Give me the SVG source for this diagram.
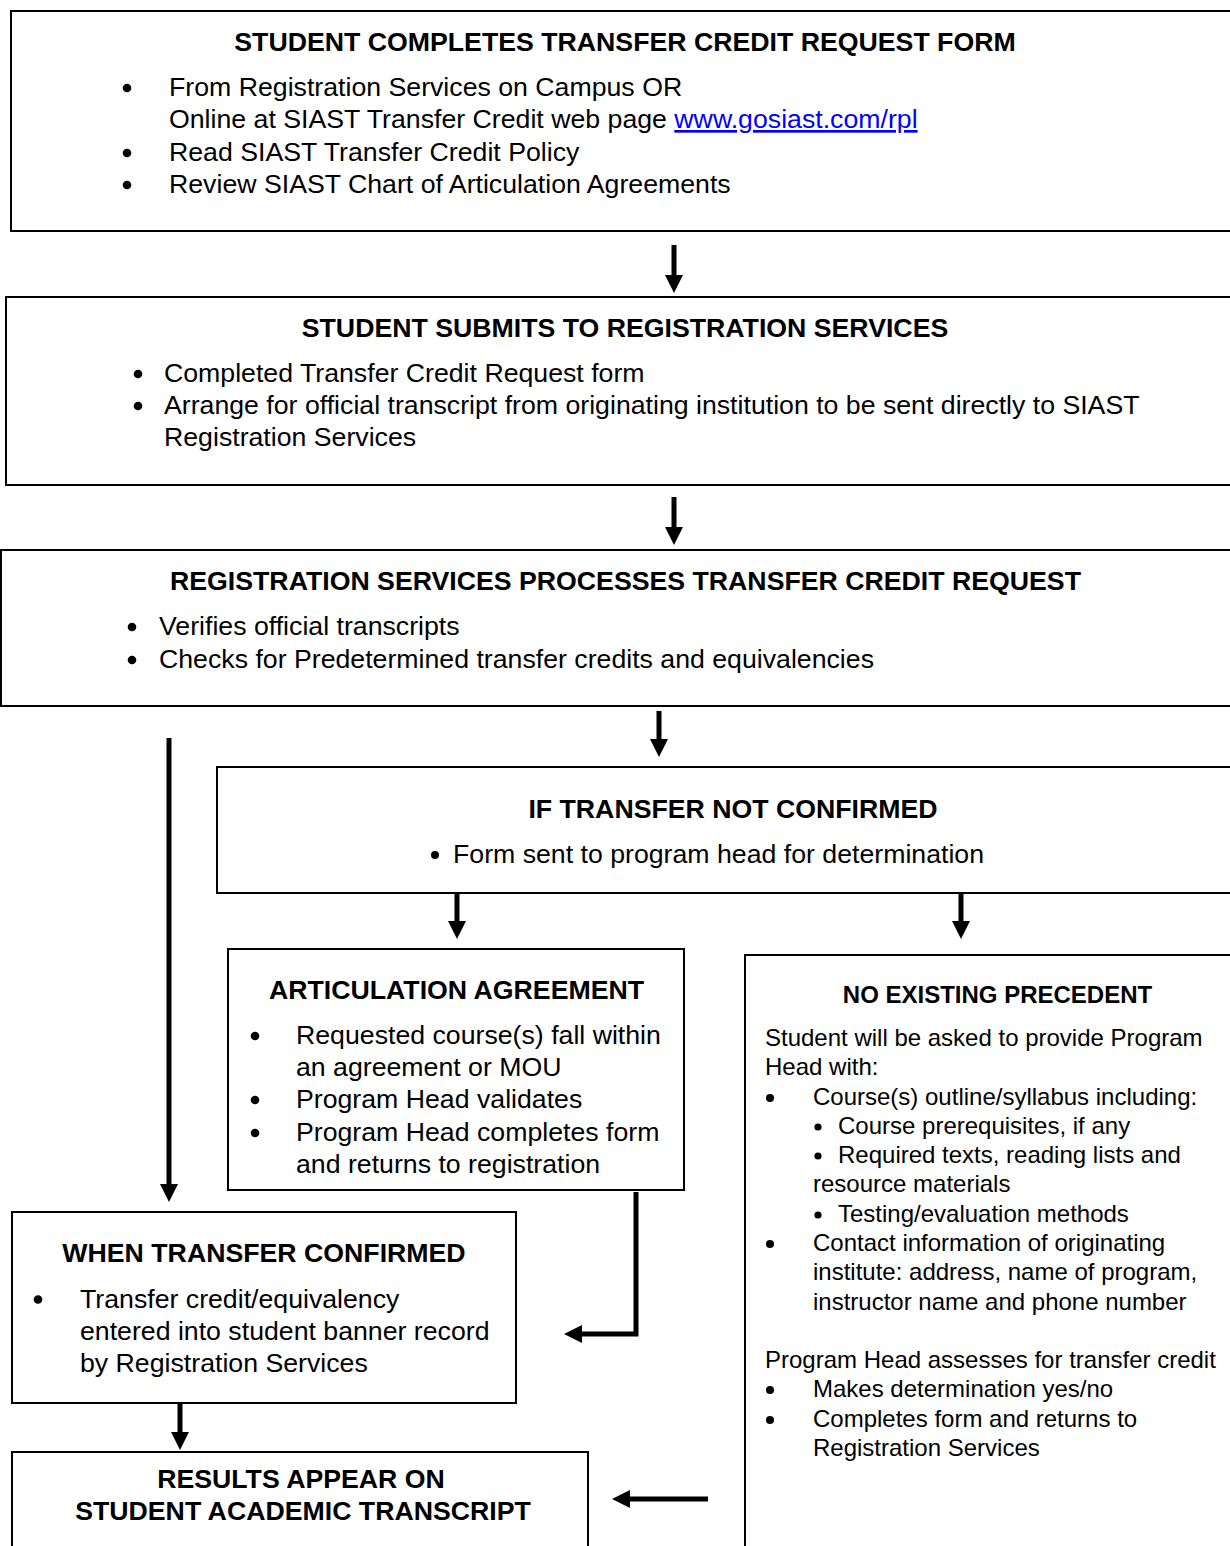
<svg xmlns="http://www.w3.org/2000/svg" width="1230" height="1546" viewBox="0 0 1230 1546">
<style>
.box{fill:#fff;stroke:#000;stroke-width:2}
.t{font-family:"Liberation Sans",Arial,sans-serif;font-size:26.7px;fill:#000}
.h{font-family:"Liberation Sans",Arial,sans-serif;font-size:26.7px;font-weight:bold;fill:#000;text-anchor:middle}
.s{font-family:"Liberation Sans",Arial,sans-serif;font-size:24px;fill:#000}
.sh{font-family:"Liberation Sans",Arial,sans-serif;font-size:24px;font-weight:bold;fill:#000;text-anchor:middle}
.ar{stroke:#000;stroke-width:5;fill:none;marker-end:url(#ah)}
.link{fill:#0000FF;text-decoration:underline}
.b{fill:#000}
</style>
<defs>
<marker id="ah" markerUnits="userSpaceOnUse" markerWidth="18" markerHeight="18" refX="6" refY="9" orient="auto">
<path d="M0,0 L18,9 L0,18 z" fill="#000"/>
</marker>
</defs>
<rect width="1230" height="1546" fill="#fff"/>

<g id="connectors">
<line class="ar" x1="674" y1="245" x2="674" y2="281"/>
<line class="ar" x1="674" y1="497" x2="674" y2="533"/>
<line class="ar" x1="659" y1="711" x2="659" y2="745"/>
<line class="ar" x1="169" y1="738" x2="169" y2="1190"/>
<line class="ar" x1="457" y1="893" x2="457" y2="927"/>
<line class="ar" x1="961" y1="893" x2="961" y2="927"/>
<polyline class="ar" points="636,1192 636,1334 576,1334"/>
<line class="ar" x1="180" y1="1403" x2="180" y2="1438"/>
<line class="ar" x1="708" y1="1499" x2="624" y2="1499"/>
</g>

<g id="n1">
<rect class="box" x="11" y="11" width="1240" height="220"/>
<text class="h" x="625" y="51">STUDENT COMPLETES TRANSFER CREDIT REQUEST FORM</text>
<circle class="b" cx="127" cy="88" r="4.3"/>
<text class="t" x="169" y="96">From Registration Services on Campus OR</text>
<text class="t" x="169" y="128">Online at SIAST Transfer Credit web page <tspan class="link">www.gosiast.com/rpl</tspan></text>
<circle class="b" cx="127" cy="153" r="4.3"/>
<text class="t" x="169" y="161">Read SIAST Transfer Credit Policy</text>
<circle class="b" cx="127" cy="185" r="4.3"/>
<text class="t" x="169" y="193">Review SIAST Chart of Articulation Agreements</text>
</g>

<g id="n2">
<rect class="box" x="6" y="297" width="1240" height="188"/>
<text class="h" x="625" y="337">STUDENT SUBMITS TO REGISTRATION SERVICES</text>
<circle class="b" cx="138" cy="374" r="4.3"/>
<text class="t" x="164" y="382">Completed Transfer Credit Request form</text>
<circle class="b" cx="138" cy="406" r="4.3"/>
<text class="t" x="164" y="414">Arrange for official transcript from originating institution to be sent directly to SIAST</text>
<text class="t" x="164" y="446">Registration Services</text>
</g>

<g id="n3">
<rect class="box" x="1" y="550" width="1245" height="156"/>
<text class="h" x="625.5" y="590">REGISTRATION SERVICES PROCESSES TRANSFER CREDIT REQUEST</text>
<circle class="b" cx="132" cy="627" r="4.3"/>
<text class="t" x="159" y="635">Verifies official transcripts</text>
<circle class="b" cx="132" cy="660" r="4.3"/>
<text class="t" x="159" y="668">Checks for Predetermined transfer credits and equivalencies</text>
</g>

<g id="n4">
<rect class="box" x="217" y="767" width="1030" height="126"/>
<text class="h" x="733" y="818">IF TRANSFER NOT CONFIRMED</text>
<circle class="b" cx="435" cy="855" r="4"/>
<text class="t" x="453" y="863">Form sent to program head for determination</text>
</g>

<g id="n5">
<rect class="box" x="228" y="949" width="456" height="241"/>
<text class="h" x="456.5" y="999">ARTICULATION AGREEMENT</text>
<circle class="b" cx="255" cy="1036" r="4.3"/>
<text class="t" x="296" y="1044">Requested course(s) fall within</text>
<text class="t" x="296" y="1076">an agreement or MOU</text>
<circle class="b" cx="255" cy="1100" r="4.3"/>
<text class="t" x="296" y="1108">Program Head validates</text>
<circle class="b" cx="255" cy="1133" r="4.3"/>
<text class="t" x="296" y="1141">Program Head completes form</text>
<text class="t" x="296" y="1173">and returns to registration</text>
</g>

<g id="n6">
<rect class="box" x="745" y="955" width="500" height="600"/>
<text class="sh" x="997.5" y="1002.5">NO EXISTING PRECEDENT</text>
<text class="s" x="765" y="1045.5">Student will be asked to provide Program</text>
<text class="s" x="765" y="1074.5">Head with:</text>
<circle class="b" cx="770" cy="1098" r="4"/>
<text class="s" x="813" y="1104.5">Course(s) outline/syllabus including:</text>
<circle class="b" cx="818" cy="1127" r="3.6"/>
<text class="s" x="838" y="1133.5">Course prerequisites, if any</text>
<circle class="b" cx="818" cy="1156" r="3.6"/>
<text class="s" x="838" y="1162.5">Required texts, reading lists and</text>
<text class="s" x="813" y="1191.5">resource materials</text>
<circle class="b" cx="818" cy="1215" r="3.6"/>
<text class="s" x="838" y="1221.5">Testing/evaluation methods</text>
<circle class="b" cx="770" cy="1244" r="4"/>
<text class="s" x="813" y="1250.5">Contact information of originating</text>
<text class="s" x="813" y="1279.5">institute: address, name of program,</text>
<text class="s" x="813" y="1309.5">instructor name and phone number</text>
<text class="s" x="765" y="1367.5">Program Head assesses for transfer credit</text>
<circle class="b" cx="770" cy="1390" r="4"/>
<text class="s" x="813" y="1396.5">Makes determination yes/no</text>
<circle class="b" cx="770" cy="1420" r="4"/>
<text class="s" x="813" y="1426.5">Completes form and returns to</text>
<text class="s" x="813" y="1455.5">Registration Services</text>
</g>

<g id="n7">
<rect class="box" x="12" y="1212" width="504" height="191"/>
<text class="h" x="264" y="1262">WHEN TRANSFER CONFIRMED</text>
<circle class="b" cx="38" cy="1299.5" r="4.3"/>
<text class="t" x="80" y="1307.5">Transfer credit/equivalency</text>
<text class="t" x="80" y="1339.5">entered into student banner record</text>
<text class="t" x="80" y="1371.5">by Registration Services</text>
</g>

<g id="n8">
<rect class="box" x="12" y="1452" width="576" height="110"/>
<text class="h" x="301" y="1488">RESULTS APPEAR ON</text>
<text class="h" x="303" y="1520">STUDENT ACADEMIC TRANSCRIPT</text>
</g>
</svg>
